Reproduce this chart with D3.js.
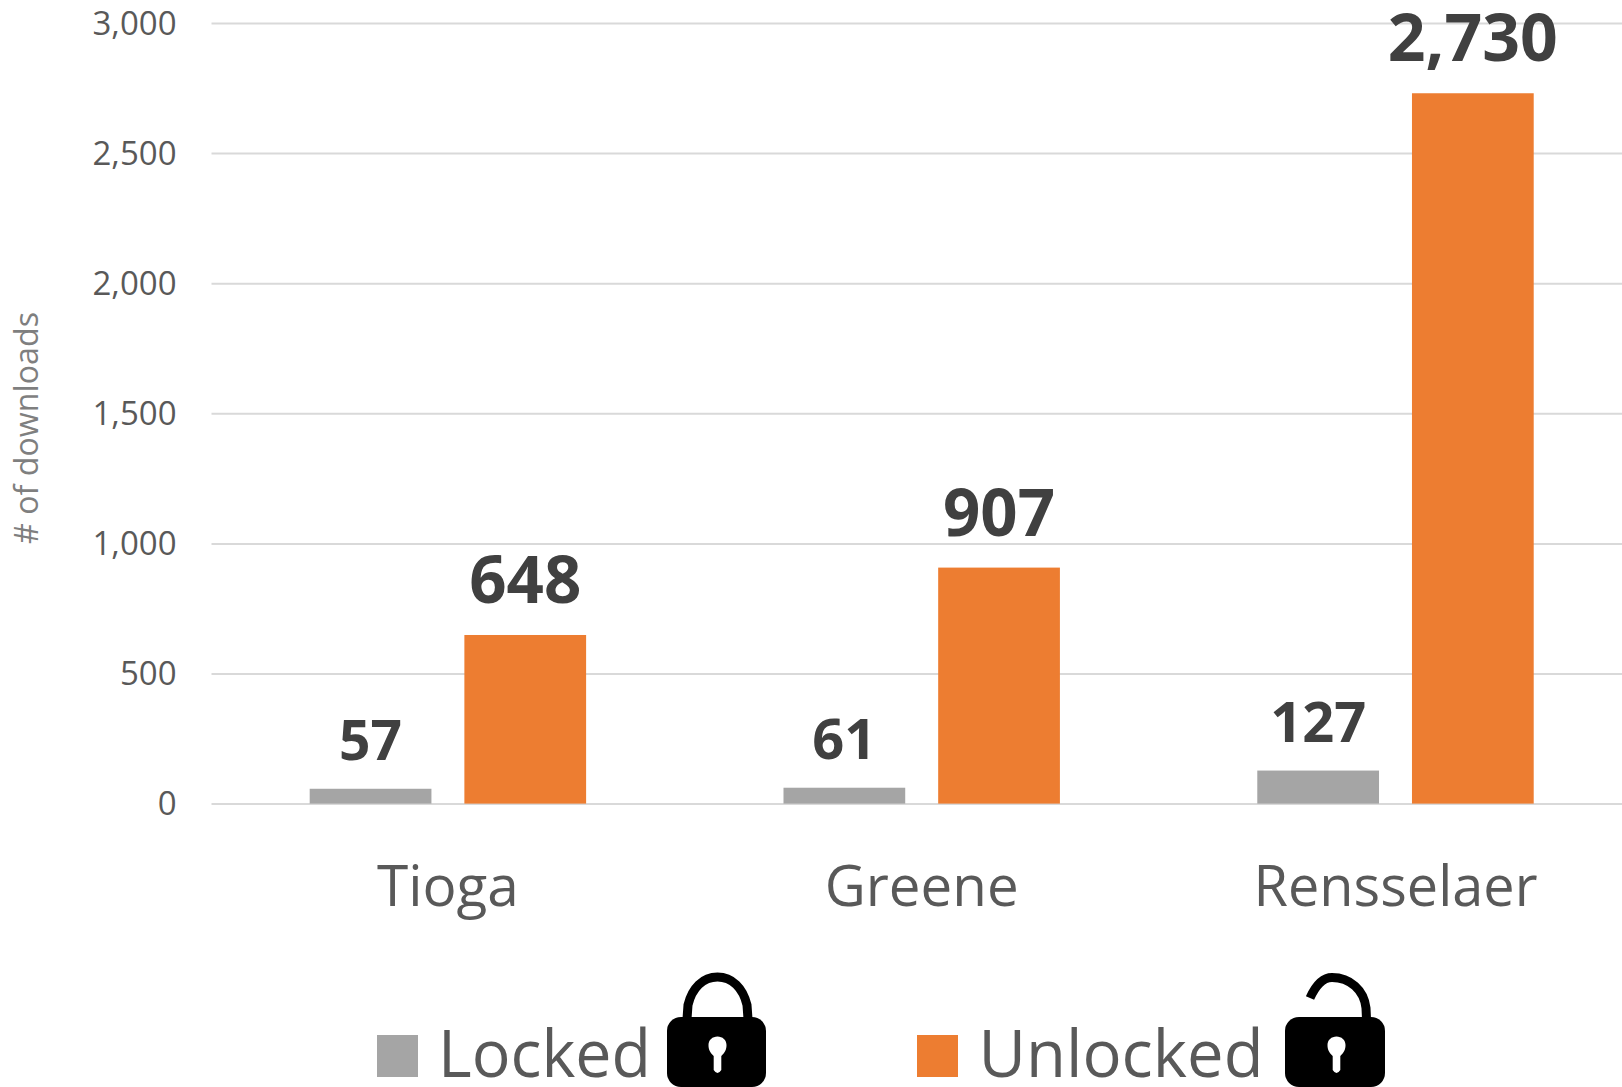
<!DOCTYPE html>
<html><head><meta charset="utf-8">
<script src="https://cdn.jsdelivr.net/npm/d3@7"></script>
<style>html,body{margin:0;padding:0;background:#fff;overflow:hidden}svg{display:block}text{font-family:"Open Sans",sans-serif}</style>
</head><body><svg id="c" width="1622" height="1087"></svg>
<script>
const categories=["Tioga","Greene","Rensselaer"];
const seriesNames=["Locked","Unlocked"];
const lockedValues=[57,61,127];
const unlockedValues=[648,907,2730];
const yTicks=[0,500,1000,1500,2000,2500,3000];
const seriesColors=["#a5a5a5","#ed7d31"];
const labelSizes=[56,67];
const labelOffsets=[29,32];
const labelWidths=[[63,64,96],[112,112,170]];
const categoryWidths=[142,194,284];
const legendX=[377,917], legendTextX=[438,978.5], legendTextW=[213,285], lockX=[667,1285];

const svg=d3.select("#c");
const y=d3.scaleLinear().domain([0,3000]).range([803.6,23]);
const x0=d3.scaleBand().domain(categories).range([211,1632.4]);
const x1=d3.scaleBand().domain(seriesNames).range([0,x0.bandwidth()]).paddingInner(.213).paddingOuter(.638);
const values=[lockedValues,unlockedValues];

// gridlines + tick labels
const ax=svg.append("g").attr("transform","translate(211.5,0)")
  .call(d3.axisLeft(y).tickValues(yTicks).tickFormat(d3.format(",")).tickSize(-1411).tickPadding(35));
ax.select(".domain").remove();
ax.selectAll(".tick line").attr("stroke","#d9d9d9").attr("stroke-width",2);
ax.selectAll(".tick text").attr("fill","#595959").style("font-size","33px").style("font-family",'"Open Sans",sans-serif').attr("dy","0.34em");

// bars + labels
seriesNames.forEach((s,si)=>{
  const g=svg.append("g");
  g.selectAll("rect").data(categories).join("rect")
    .attr("x",c=>x0(c)+x1(s)).attr("width",x1.bandwidth())
    .attr("y",(c,i)=>y(values[si][i])).attr("height",(c,i)=>y(0)-y(values[si][i]))
    .attr("fill",seriesColors[si]);
  g.selectAll("text").data(categories).join("text")
    .attr("x",c=>x0(c)+x1(s)+x1.bandwidth()/2)
    .attr("y",(c,i)=>y(values[si][i])-labelOffsets[si])
    .attr("text-anchor","middle").attr("fill","#404040").attr("font-weight",700)
    .attr("font-size",labelSizes[si])
    .attr("textLength",(c,i)=>labelWidths[si][i]).attr("lengthAdjust","spacingAndGlyphs")
    .text((c,i)=>d3.format(",")(values[si][i]));
});

// category labels
svg.append("g").selectAll("text").data(categories).join("text")
  .attr("x",c=>x0(c)+x0.bandwidth()/2).attr("y",905.5).attr("text-anchor","middle")
  .attr("fill","#595959").attr("font-size",57)
  .attr("textLength",(c,i)=>categoryWidths[i]).attr("lengthAdjust","spacingAndGlyphs")
  .text(c=>c);

// axis title
svg.append("text").attr("transform","translate(38,428) rotate(-90)").attr("text-anchor","middle")
  .attr("fill","#7f7f7f").attr("font-size",33).attr("textLength",232).attr("lengthAdjust","spacingAndGlyphs").text("# of downloads");

// legend
const lg=svg.append("g");
lg.selectAll("rect").data(seriesNames).join("rect")
  .attr("x",(d,i)=>legendX[i]).attr("y",1035).attr("width",41).attr("height",42)
  .attr("fill",(d,i)=>seriesColors[i]);
lg.selectAll("text").data(seriesNames).join("text")
  .attr("x",(d,i)=>legendTextX[i]).attr("y",1077).attr("fill","#595959").attr("font-size",66)
  .attr("textLength",(d,i)=>legendTextW[i]).attr("lengthAdjust","spacingAndGlyphs").text(d=>d);

// lock icons
function lock(x,open){
  const g=svg.append("g").attr("transform",`translate(${x},0)`);
  const sh=open?"M81.5 1019 L81 1008 C79 990 65 977.5 47 977.5 C37 977.5 30 987 25 998"
               :"M20 1019 L21 1005 C25 988 36 977 50.5 977 C65 977 76 988 80 1005 L81 1019";
  g.append("path").attr("d",sh).attr("fill","none").attr("stroke","#000").attr("stroke-width",9);
  g.append("rect").attr("x",0).attr("y",1017).attr("width",open?100:99).attr("height",70).attr("rx",14).attr("fill","#000");
  const cx=open?51.5:50.5;
  g.append("path").attr("d",`M${cx-3.8} 1070 L${cx-3.8} 1056 C${cx-8} 1052 ${cx-9} 1049 ${cx-9} 1045 C${cx-9} 1040 ${cx-5} 1036.5 ${cx} 1036.5 C${cx+5} 1036.5 ${cx+9} 1040 ${cx+9} 1045 C${cx+9} 1049 ${cx+8} 1052 ${cx+3.8} 1056 L${cx+3.8} 1070 Q${cx} 1076 ${cx-3.8} 1070 Z`).attr("fill","#fff");
}
lock(lockX[0],false); lock(lockX[1],true);
</script></body></html>
